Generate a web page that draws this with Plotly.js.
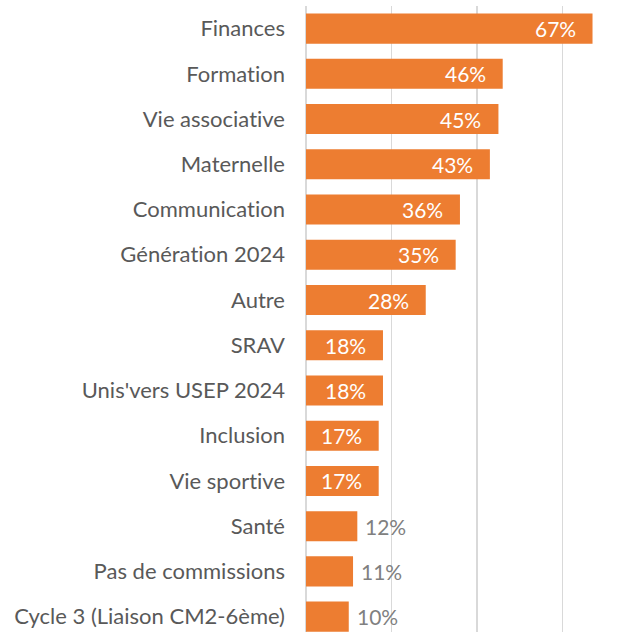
<!DOCTYPE html>
<html>
<head>
<meta charset="utf-8">
<script src="https://cdn.plot.ly/plotly-3.0.1.min.js"></script>
<style>
html,body{margin:0;padding:0;background:#fff;}
#chart{width:634px;height:632px;}
#chart text{font-variant-ligatures:none;font-feature-settings:"liga" 0;}
</style>
</head>
<body>
<div id="chart"></div>
<script>
const categories = ["Finances", "Formation", "Vie associative", "Maternelle", "Communication", "Génération 2024", "Autre", "SRAV", "Unis'vers USEP 2024", "Inclusion", "Vie sportive", "Santé", "Pas de commissions", "Cycle 3 (Liaison CM2-6ème)"];
const values = [0.67, 0.46, 0.45, 0.43, 0.36, 0.35, 0.28, 0.18, 0.18, 0.17, 0.17, 0.12, 0.11, 0.10];
const labels = ["67%", "46%", "45%", "43%", "36%", "35%", "28%", "18%", "18%", "17%", "17%", "12%", "11%", "10%"];

const FONT = "Lato, Carlito, Calibri, sans-serif";
const insideThreshold = 0.15;

const annotations = categories.map((c, i) => {
  const inside = values[i] >= insideThreshold;
  return {
    x: values[i], y: c, xref: "x", yref: "y",
    text: labels[i], showarrow: false,
    xanchor: inside ? "right" : "left",
    xshift: inside ? -15 : 6,
    font: {family: FONT, size: 21, color: inside ? "#ffffff" : "#808080"}
  };
});

const trace = {
  type: "bar", orientation: "h",
  x: values, y: categories,
  marker: {color: "#ED7D31"},
  hoverinfo: "none"
};

const layout = {
  width: 634, height: 632,
  margin: {l: 306, r: 0, t: 6, b: 0, pad: 0},
  paper_bgcolor: "#ffffff", plot_bgcolor: "#ffffff",
  bargap: 0.336,
  showlegend: false,
  xaxis: {
    range: [0, 0.767], dtick: 0.2, tick0: 0,
    showgrid: true, gridcolor: "#D9D9D9", gridwidth: 1.5,
    zeroline: true, zerolinecolor: "#D9D9D9", zerolinewidth: 1.5,
    showticklabels: false, ticks: "", showline: false, fixedrange: true
  },
  yaxis: {
    type: "category",
    range: [13.34, -0.5],
    showgrid: false, zeroline: false, showline: false,
    ticks: "", ticklabelstandoff: 20,
    tickfont: {family: FONT, size: 22, color: "#595959"},
    fixedrange: true
  },
  annotations: annotations
};

Plotly.newPlot("chart", [trace], layout, {displayModeBar: false, staticPlot: true});
</script>
</body>
</html>
